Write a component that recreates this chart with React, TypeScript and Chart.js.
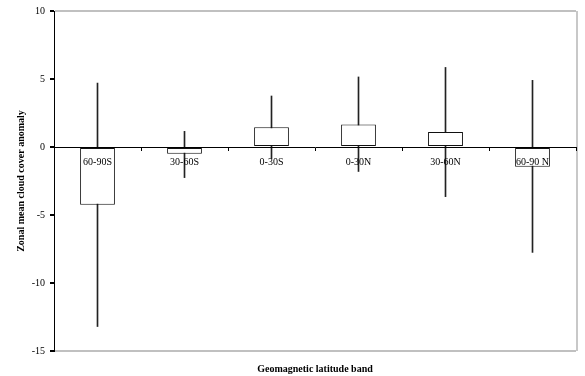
import React, { useEffect, useRef } from "react";
import { Chart, registerables } from "chart.js";

Chart.register(...registerables);

const categories = ["60-90S", "30-60S", "0-30S", "0-30N", "30-60N", "60-90 N"];
const meanAnomaly = [-4.25, -0.5, 1.45, 1.65, 1.1, -1.45];
const errorLow = [-13.2, -2.25, -0.85, -1.8, -3.65, -7.75];
const errorHigh = [4.7, 1.15, 3.75, 5.15, 5.85, 4.9];
const yMin = -15;
const yMax = 10;
const yStep = 5;
const yTitle = "Zonal mean cloud cover anomaly";
const xTitle = "Geomagnetic latitude band";

const FONT = "'Liberation Serif', 'Times New Roman', serif";

const frameBorder = {
  id: "frameBorder",
  afterDatasetsDraw(chart: any) {
    const { ctx, chartArea } = chart;
    ctx.save();
    ctx.strokeStyle = "#c8c8c8";
    ctx.lineWidth = 2;
    ctx.beginPath();
    ctx.moveTo(chartArea.right + 1, chartArea.top);
    ctx.lineTo(chartArea.right + 1, chartArea.bottom);
    ctx.stroke();
    ctx.restore();
  },
};

export default function App() {
  const ref = useRef<HTMLCanvasElement | null>(null);

  useEffect(() => {
    if (!ref.current) return;
    const chart = new Chart(ref.current, {
      type: "bar",
      data: {
        labels: categories,
        datasets: [
          {
            label: "error",
            data: categories.map((_, i) => [errorLow[i], errorHigh[i]]) as any,
            backgroundColor: "#222",
            borderWidth: 0,
            barThickness: 1,
            grouped: false,
            order: 2,
          },
          {
            label: "mean",
            data: meanAnomaly,
            backgroundColor: "#ffffff",
            borderColor: "#111",
            borderWidth: 1,
            borderSkipped: false,
            categoryPercentage: 0.4,
            barPercentage: 1,
            grouped: false,
            order: 1,
          },
        ],
      },
      options: {
        responsive: false,
        animation: false,
        events: [],
        layout: { padding: { top: 9, right: 9, left: 0, bottom: 0 } },
        plugins: { legend: { display: false }, tooltip: { enabled: false } },
        scales: {
          x: {
            type: "category",
            position: { y: 0 } as any,
            offset: true,
            grid: {
              display: true,
              drawOnChartArea: false,
              offset: true,
              tickLength: 3,
              color: "#000",
              z: 1,
            },
            border: { display: true, color: "#000", width: 1, z: 1 },
            ticks: {
              color: "#000",
              font: { family: FONT, size: 10 },
              padding: 6,
              maxRotation: 0,
              autoSkip: false,
              z: 1,
            },
          },
          x2: {
            type: "category",
            position: "bottom",
            labels: categories,
            grid: { display: false },
            border: { display: false },
            ticks: { display: false },
            title: {
              display: true,
              text: xTitle,
              color: "#000",
              font: { family: FONT, size: 10, weight: "bold" },
              padding: { top: 1, bottom: 1 },
            },
            afterFit(scale: any) {
              scale.height = 25;
            },
          },
          y: {
            min: yMin,
            max: yMax,
            ticks: {
              stepSize: yStep,
              color: "#000",
              font: { family: FONT, size: 10 },
              padding: 5,
            },
            grid: {
              color: (c: any) =>
                c.tick && (c.tick.value === yMax || c.tick.value === yMin)
                  ? "#c0c0c0"
                  : "rgba(0,0,0,0)",
              tickColor: "#000",
              tickLength: 4,
              lineWidth: 2,
            },
            border: { display: true, color: "#000", width: 1 },
            title: {
              display: true,
              text: yTitle,
              color: "#000",
              font: { family: FONT, size: 10, weight: "bold" },
              padding: { top: 15, bottom: 4 },
            },
            afterFit(scale: any) {
              scale.width = 54;
            },
          },
        },
      },
      plugins: [frameBorder],
    });
    return () => chart.destroy();
  }, []);

  return (
    <div style={{ position: "absolute", left: 0, top: 0, width: 585, height: 376, background: "#fff" }}>
      <canvas ref={ref} width={585} height={376} />
    </div>
  );
}
